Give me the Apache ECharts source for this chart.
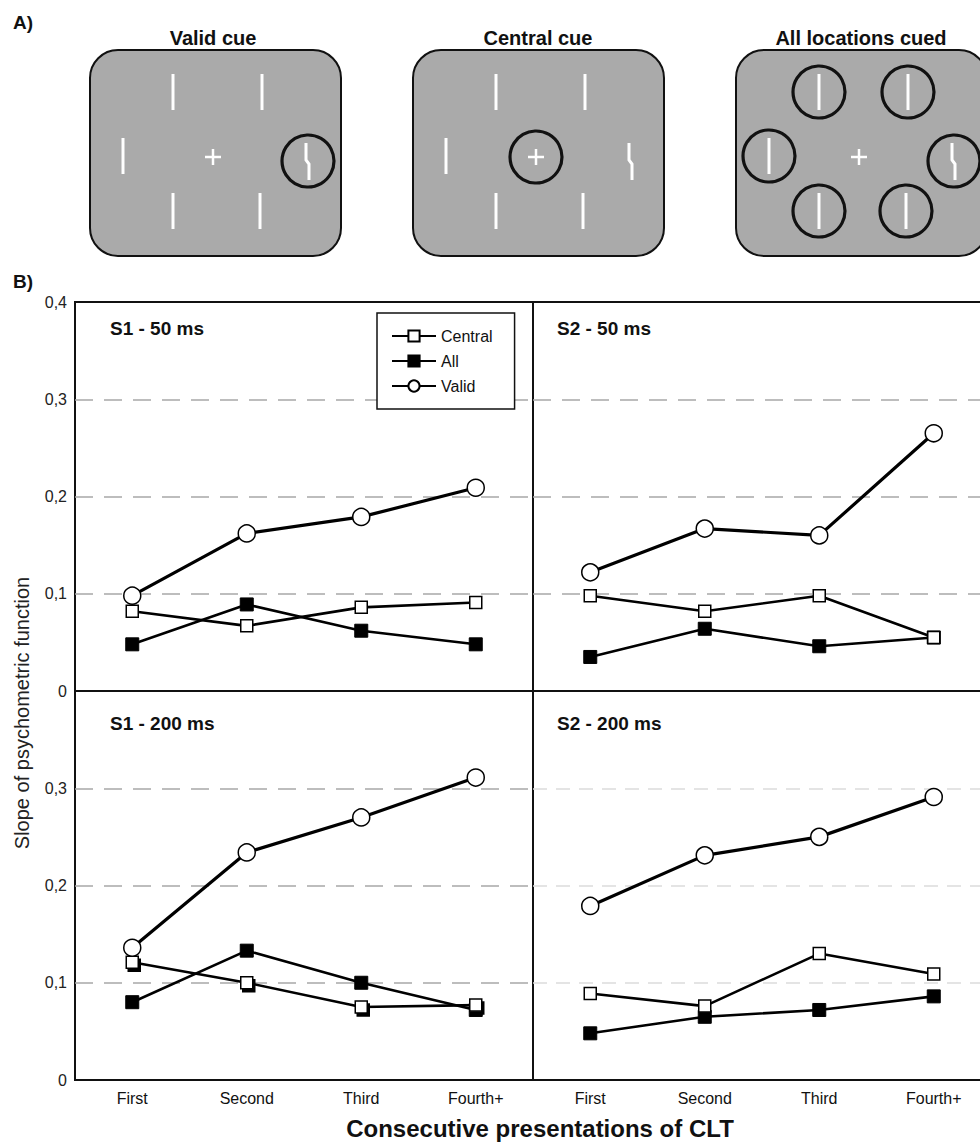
<!DOCTYPE html>
<html>
<head>
<meta charset="utf-8">
<script src="https://cdn.jsdelivr.net/npm/echarts@6/dist/echarts.min.js"></script>
<style>
html,body{margin:0;padding:0;background:#fff;}
#chart{width:980px;height:1144px;}
</style>
</head>
<body>
<div id="chart"></div>
<script>
// ---- data ----
var categories = ['First', 'Second', 'Third', 'Fourth+'];
var yTicks = [0, 0.1, 0.2, 0.3, 0.4];
var panelNames = ['S1 - 50 ms', 'S2 - 50 ms', 'S1 - 200 ms', 'S2 - 200 ms'];
var seriesNames = ['Central', 'All', 'Valid'];

var s1_50_central = [0.082, 0.067, 0.086, 0.091];
var s1_50_all     = [0.048, 0.089, 0.062, 0.048];
var s1_50_valid   = [0.098, 0.162, 0.179, 0.209];

var s2_50_central = [0.098, 0.082, 0.098, 0.055];
var s2_50_all     = [0.035, 0.064, 0.046, 0.055];
var s2_50_valid   = [0.122, 0.167, 0.160, 0.265];

var s1_200_central = [0.121, 0.100, 0.075, 0.077];
var s1_200_all     = [0.080, 0.133, 0.100, 0.072];
var s1_200_valid   = [0.136, 0.234, 0.270, 0.311];

var s2_200_central = [0.089, 0.076, 0.130, 0.109];
var s2_200_all     = [0.048, 0.065, 0.072, 0.086];
var s2_200_valid   = [0.179, 0.231, 0.250, 0.291];

var stimulusTitles = ['Valid cue', 'Central cue', 'All locations cued'];

// ---- build ----
var FONT = 'Liberation Sans, Arial, Helvetica, sans-serif';
var panelData = [
  [s1_50_central, s1_50_all, s1_50_valid],
  [s2_50_central, s2_50_all, s2_50_valid],
  [s1_200_central, s1_200_all, s1_200_valid],
  [s2_200_central, s2_200_all, s2_200_valid]
];
var gridPos = [
  {left: 75, top: 302}, {left: 533, top: 302},
  {left: 75, top: 691}, {left: 533, top: 691}
];
var GW = 458, GH = 389;

var grids = [], xAxes = [], yAxes = [], series = [];
gridPos.forEach(function (g, i) {
  grids.push({left: g.left, top: g.top, width: GW, height: GH, show: true,
    outerBoundsMode: 'none', containLabel: false,
    borderColor: '#111', borderWidth: 2, backgroundColor: 'transparent'});
  var bottom = i >= 2;
  xAxes.push({type: 'category', gridIndex: i, data: categories, boundaryGap: true,
    axisLine: {show: false}, axisTick: {show: false},
    axisLabel: {show: bottom, fontSize: 16, color: '#111', margin: 10, fontFamily: FONT},
    splitLine: {show: false}});
  var left = i % 2 === 0;
  var light = i === 3;
  yAxes.push({type: 'value', gridIndex: i, min: yTicks[0], max: yTicks[yTicks.length - 1], interval: 0.1,
    axisLine: {show: false}, axisTick: {show: false},
    axisLabel: {show: left, showMaxLabel: i === 0, fontSize: 16, color: '#222', margin: 8, fontFamily: FONT,
      formatter: function (v) { return v === 0 ? '0' : v.toFixed(1).replace('.', ','); }},
    splitLine: {show: true, showMinLine: false, showMaxLine: false,
      lineStyle: {color: light ? '#dcdcdc' : '#a8a8a8', width: 1.6,
      type: light ? [14, 9] : [18, 11]}}});
  var d = panelData[i];
  series.push({name: 'Central', type: 'line', xAxisIndex: i, yAxisIndex: i, data: d[0],
    symbol: 'rect', symbolSize: 12, z: 3,
    itemStyle: i === 2 ? {color: '#fff', borderColor: '#000', borderWidth: 1.5,
      shadowColor: '#000', shadowOffsetX: 2, shadowOffsetY: 3, shadowBlur: 0}
      : {color: '#fff', borderColor: '#000', borderWidth: 1.5},
    lineStyle: {color: '#000', width: 2.6}});
  series.push({name: 'All', type: 'line', xAxisIndex: i, yAxisIndex: i, data: d[1],
    symbol: 'rect', symbolSize: 13, z: 2,
    itemStyle: {color: '#000', borderColor: '#000', borderWidth: 1},
    lineStyle: {color: '#000', width: 2.6}});
  series.push({name: 'Valid', type: 'line', xAxisIndex: i, yAxisIndex: i, data: d[2],
    symbol: 'circle', symbolSize: 17, z: 4,
    itemStyle: {color: '#fff', borderColor: '#000', borderWidth: 1.5},
    lineStyle: {color: '#000', width: 3.2}});
});

// ---- panel A illustration ----
var graphics = [];
var boxLefts = [90, 413, 736], boxTop = 50, boxW = 251, boxH = 206;
var titleX = [213, 538, 861];
var barsRel = [[83, 24, 60], [172, 24, 60], [33, 88, 124], [83, 143, 179], [170, 143, 179]];
var circlesRel = [
  [[218, 111]],
  [[123, 107]],
  [[83, 42], [172, 42], [33, 106], [218, 111], [83, 161], [170, 161]]
];
boxLefts.forEach(function (bx, k) {
  graphics.push({type: 'rect', shape: {x: bx, y: boxTop, width: boxW, height: boxH, r: 28},
    style: {fill: '#aaaaaa', stroke: '#111', lineWidth: 2}});
  barsRel.forEach(function (b) {
    graphics.push({type: 'line', shape: {x1: bx + b[0], y1: boxTop + b[1], x2: bx + b[0], y2: boxTop + b[2]},
      style: {stroke: '#fff', lineWidth: 3}, z: 2});
  });
  graphics.push({type: 'line', shape: {x1: bx + 115, y1: boxTop + 107, x2: bx + 131, y2: boxTop + 107},
    style: {stroke: '#fff', lineWidth: 2.5}, z: 2});
  graphics.push({type: 'line', shape: {x1: bx + 123, y1: boxTop + 99, x2: bx + 123, y2: boxTop + 115},
    style: {stroke: '#fff', lineWidth: 2.5}, z: 2});
  graphics.push({type: 'polyline', shape: {points: [[bx + 216, boxTop + 93], [bx + 216, boxTop + 110],
    [bx + 219, boxTop + 114], [bx + 219, boxTop + 130]]},
    style: {stroke: '#fff', lineWidth: 3, fill: null}, z: 2});
  circlesRel[k].forEach(function (c) {
    graphics.push({type: 'circle', shape: {cx: bx + c[0], cy: boxTop + c[1], r: 26},
      style: {fill: null, stroke: '#111', lineWidth: 3.2}, z: 3});
  });
  graphics.push({type: 'text', x: titleX[k], y: 38, z: 5,
    style: {text: stimulusTitles[k], fill: '#111', font: 'bold 20px ' + FONT,
      textAlign: 'center', textVerticalAlign: 'middle'}});
});
graphics.push({type: 'text', x: 13, y: 22, z: 5,
  style: {text: 'A)', fill: '#111', font: 'bold 19px ' + FONT, textAlign: 'left', textVerticalAlign: 'middle'}});
graphics.push({type: 'text', x: 13, y: 281, z: 5,
  style: {text: 'B)', fill: '#111', font: 'bold 19px ' + FONT, textAlign: 'left', textVerticalAlign: 'middle'}});

// panel labels
var labelPos = [[110, 328], [557, 328], [110, 723], [557, 723]];
panelNames.forEach(function (n, i) {
  graphics.push({type: 'text', x: labelPos[i][0], y: labelPos[i][1], z: 5,
    style: {text: n, fill: '#111', font: 'bold 19px ' + FONT, textAlign: 'left', textVerticalAlign: 'middle'}});
});
// axis titles
graphics.push({type: 'text', x: 22, y: 713, rotation: Math.PI / 2, z: 5,
  style: {text: 'Slope of psychometric function', fill: '#222', font: '20px ' + FONT,
    textAlign: 'center', textVerticalAlign: 'middle'}});
graphics.push({type: 'text', x: 540, y: 1128, z: 5,
  style: {text: 'Consecutive presentations of CLT', fill: '#111', font: 'bold 24px ' + FONT,
    textAlign: 'center', textVerticalAlign: 'middle'}});

var chart = echarts.init(document.getElementById('chart'), null, {renderer: 'svg'});
chart.setOption({
  animation: false,
  backgroundColor: '#fff',
  textStyle: {fontFamily: FONT},
  grid: grids,
  xAxis: xAxes,
  yAxis: yAxes,
  legend: {data: seriesNames, orient: 'vertical', left: 377, top: 313,
    padding: [15, 22, 15, 14], itemGap: 9, itemWidth: 44, itemHeight: 14,
    borderColor: '#111', borderWidth: 1.5, backgroundColor: '#fff',
    textStyle: {fontSize: 16, color: '#111', fontFamily: FONT}, selectedMode: false},
  series: series,
  graphic: graphics
});
</script>
</body>
</html>
